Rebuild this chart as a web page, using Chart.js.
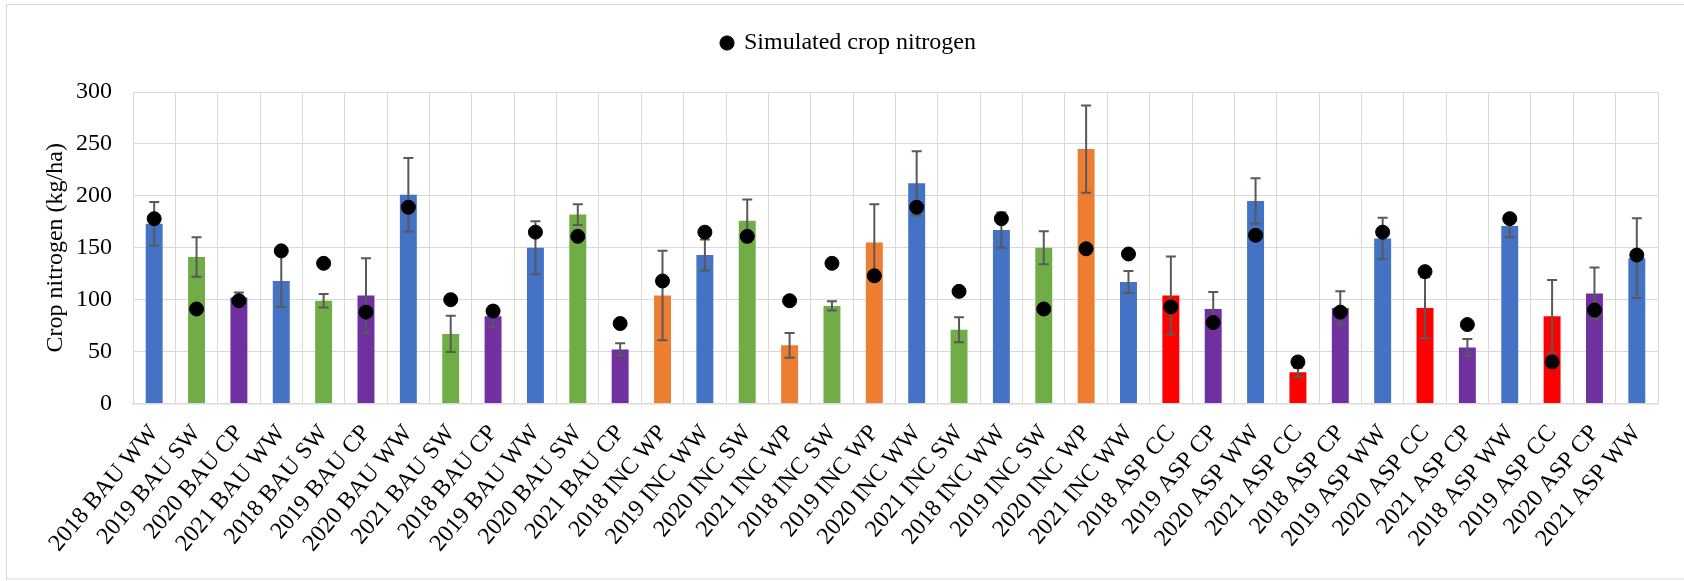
<!DOCTYPE html>
<html>
<head>
<meta charset="utf-8">
<script src="https://cdn.jsdelivr.net/npm/chart.js@4.4.1/dist/chart.umd.min.js"></script>
<style>
  body { margin: 0; background: #fff; }
  #wrap { width: 1684px; height: 581px; position: relative; }
</style>
</head>
<body>
<div id="wrap"><canvas id="myChart"></canvas></div>
<script>
(function () {
  "use strict";

  // values
  const categories = [
    "2018 BAU WW", "2019 BAU SW", "2020 BAU CP", "2021 BAU WW", "2018 BAU SW", "2019 BAU CP",
    "2020 BAU WW", "2021 BAU SW", "2018 BAU CP", "2019 BAU WW", "2020 BAU SW", "2021 BAU CP",
    "2018 INC WP", "2019 INC WW", "2020 INC SW", "2021 INC WP", "2018 INC SW", "2019 INC WP",
    "2020 INC WW", "2021 INC SW", "2018 INC WW", "2019 INC SW", "2020 INC WP", "2021 INC WW",
    "2018 ASP CC", "2019 ASP CP", "2020 ASP WW", "2021 ASP CC", "2018 ASP CP", "2019 ASP WW",
    "2020 ASP CC", "2021 ASP CP", "2018 ASP WW", "2019 ASP CC", "2020 ASP CP", "2021 ASP WW"
  ];
  const observed = [
    173, 141, 102, 118, 99, 104, 201, 67, 84, 150, 182, 52,
    104, 143, 176, 56, 94, 155, 212, 71, 167, 150, 245, 117,
    104, 91, 195, 30, 92, 159, 92, 54, 171, 84, 106, 140
  ];
  const observedErr = [
    21, 19, 5, 25, 6.5, 36, 35.5, 17.5, 10, 25.5, 10, 6,
    43, 15, 20.5, 12, 4.5, 37, 31, 12, 17, 16, 42, 10.5,
    37.5, 16.5, 22, 4.5, 16, 20, 29.5, 8, 11, 35, 25, 38.5
  ];
  const simulated = [
    178, 91, 99, 147, 135, 88, 189, 100, 89, 165, 161, 77,
    118, 165, 161, 99, 135, 123, 189, 108, 178, 91, 149, 144,
    93, 78, 162, 40, 88, 165, 127, 76, 178, 40, 90, 143
  ];
  const yTicks = [0, 50, 100, 150, 200, 250, 300];

  const cropColors = {
    WW: "#4472C4",
    SW: "#70AD47",
    CP: "#7030A0",
    WP: "#ED7D31",
    CC: "#FF0000"
  };
  const barColors = categories.map(function (c) {
    return cropColors[c.split(" ")[2]];
  });

  Chart.defaults.font.family = "'Liberation Serif', 'Times New Roman', serif";
  Chart.defaults.font.size = 24;
  Chart.defaults.color = "#000";

  const frame = {
    id: "frame",
    beforeDraw(chart) {
      const c = chart.ctx;
      c.save();
      c.fillStyle = "#fff";
      c.fillRect(0, 0, chart.width, chart.height);
      c.strokeStyle = "#d9d9d9";
      c.lineWidth = 1;
      c.strokeRect(6.5, 4.5, chart.width, 574.5);
      c.restore();
    }
  };

  const errorBars = {
    id: "errorBars",
    afterDatasetDraw(chart, args) {
      if (args.index !== 0) return;
      const c = chart.ctx;
      const y = chart.scales.y;
      c.save();
      c.strokeStyle = "#595959";
      c.lineWidth = 2;
      args.meta.data.forEach(function (bar, i) {
        const top = y.getPixelForValue(observed[i] + observedErr[i]);
        const bot = y.getPixelForValue(observed[i] - observedErr[i]);
        c.beginPath();
        c.moveTo(bar.x, top);
        c.lineTo(bar.x, bot);
        c.moveTo(bar.x - 5, top);
        c.lineTo(bar.x + 5, top);
        c.moveTo(bar.x - 5, bot);
        c.lineTo(bar.x + 5, bot);
        c.stroke();
      });
      c.restore();
    }
  };

  const ctx = document.getElementById("myChart").getContext("2d");
  const myChart = new Chart(ctx, {
    type: "bar",
    data: {
      labels: categories,
      datasets: [
        {
          label: "Observed crop nitrogen",
          data: observed,
          backgroundColor: barColors,
          barPercentage: 0.4,
          categoryPercentage: 1.0,
          order: 2
        },
        {
          type: "line",
          label: "Simulated crop nitrogen",
          data: simulated,
          showLine: false,
          pointRadius: 7,
          pointHoverRadius: 7,
          pointBackgroundColor: "#000",
          pointBorderColor: "#000",
          backgroundColor: "#000",
          borderColor: "#000",
          order: 1
        }
      ]
    },
    options: {
      responsive: true,
      maintainAspectRatio: false,
      animation: false,
      layout: { padding: { top: 4, left: 40, right: 26, bottom: 0 } },
      plugins: {
        tooltip: { enabled: false },
        // empty title used only as a spacer between legend and plot
        title: {
          display: true,
          text: "",
          weight: 500,
          padding: 0,
          font: { size: 27, lineHeight: 1 }
        },
        legend: {
          position: "top",
          labels: {
            usePointStyle: true,
            pointStyle: "circle",
            boxWidth: 10,
            boxHeight: 10,
            padding: 27,
            color: "#000",
            font: { size: 24 },
            filter: function (item) {
              return item.datasetIndex === 1;
            }
          }
        }
      },
      scales: {
        x: {
          grid: { color: "#d9d9d9", drawTicks: false, tickLength: 0 },
          border: { color: "#d9d9d9", width: 1.5 },
          ticks: {
            autoSkip: false,
            minRotation: 50,
            maxRotation: 50,
            padding: 16,
            color: "#000",
            font: { size: 24 }
          },
          afterFit: function (scale) {
            scale.height = 177.5;
          }
        },
        y: {
          min: 0,
          max: 300,
          afterBuildTicks: function (scale) {
            scale.ticks = yTicks.map(function (v) { return { value: v }; });
          },
          grid: { color: "#d9d9d9", drawTicks: false, tickLength: 0 },
          border: { color: "#d9d9d9" },
          ticks: { padding: 21, color: "#000", font: { size: 24 } },
          title: {
            display: true,
            text: "Crop nitrogen (kg/ha)",
            color: "#000",
            font: { size: 24 },
            padding: { top: 1, bottom: 0 }
          },
          afterFit: function (scale) {
            scale.width = 93;
          }
        }
      }
    },
    plugins: [frame, errorBars]
  });
})();
</script>
</body>
</html>
